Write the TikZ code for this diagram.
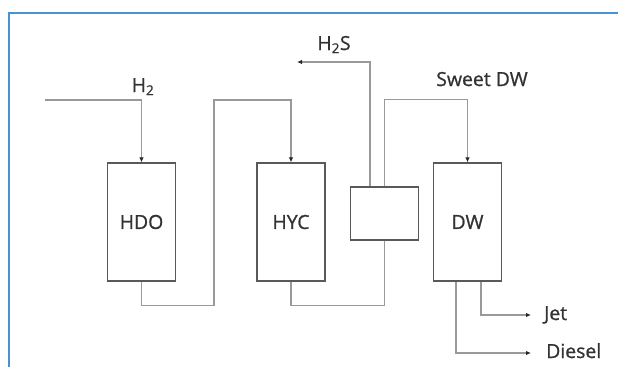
\documentclass[tikz,border=0pt]{standalone}
\usepackage{fontspec}
\setmainfont{Open Sans}[FakeBold=0.9]
\usetikzlibrary{arrows.meta}
\definecolor{cerceve}{RGB}{74,144,212}
\definecolor{yazi}{RGB}{50,50,50}
\begin{document}
\begin{tikzpicture}[x=1bp, y=-1bp, font=\fontsize{19.5}{22}\selectfont, text=yazi,
    unite/.style={draw=black!65, line width=1.2bp, minimum width=68bp, inner sep=0pt},
    akis/.style={draw=black!40, line width=1.1bp},
    ok/.style={-{Latex[length=5bp, width=4.5bp, color=black!85]}}]
  \useasboundingbox (0,0) rectangle (618,367);
  % mavi cerceve: ust ve sol kenar
  \draw[cerceve, line width=2bp] (9,367) -- (9,13) -- (618,13);

  % uniteler
  \node[unite, minimum height=118bp] (hdo) at (141.5,222) {HDO};
  \node[unite, minimum height=118bp] (hyc) at (291,222) {HYC};
  \node[unite, minimum height=53bp] (sep) at (384.5,213.5) {};
  \node[unite, minimum height=118bp] (dw) at (467.5,222) {DW};

  % serbest uclar
  \coordinate (h2in) at (45,100);
  \coordinate (h2sout) at (297,62);
  \coordinate (jetout) at (531,315);
  \coordinate (dieselout) at (531,353);

  % akislar
  \draw[akis, ok] (h2in) -| (hdo.north);
  \draw[akis, ok] (hdo.south) -- ++(0,24) -| (214,100) -| (hyc.north);
  \draw[akis] (hyc.south) -- ++(0,24) -| (sep.south);
  \draw[akis, ok] ([xshift=-14.5bp]sep.north) |- (h2sout);
  \draw[akis, ok] (sep.north) -- ++(0,-87) -| (dw.north);
  \draw[akis, ok] ([xshift=13.5bp]dw.south) |- (jetout);
  \draw[akis, ok] ([xshift=-11.5bp]dw.south) |- (dieselout);

  % etiketler
  \node[anchor=base] (h2) at (143,92) {H\textsubscript{2}};
  \node[anchor=base] (h2s) at (334,50) {H\textsubscript{2}S};
  \node[anchor=base] (sweet) at (482,86) {Sweet DW};
  \node[anchor=base west, inner sep=0pt] (jet) at (544,320) {Jet};
  \node[anchor=base west, inner sep=0pt] (diesel) at (546,358) {Diesel};
\end{tikzpicture}
\end{document}
